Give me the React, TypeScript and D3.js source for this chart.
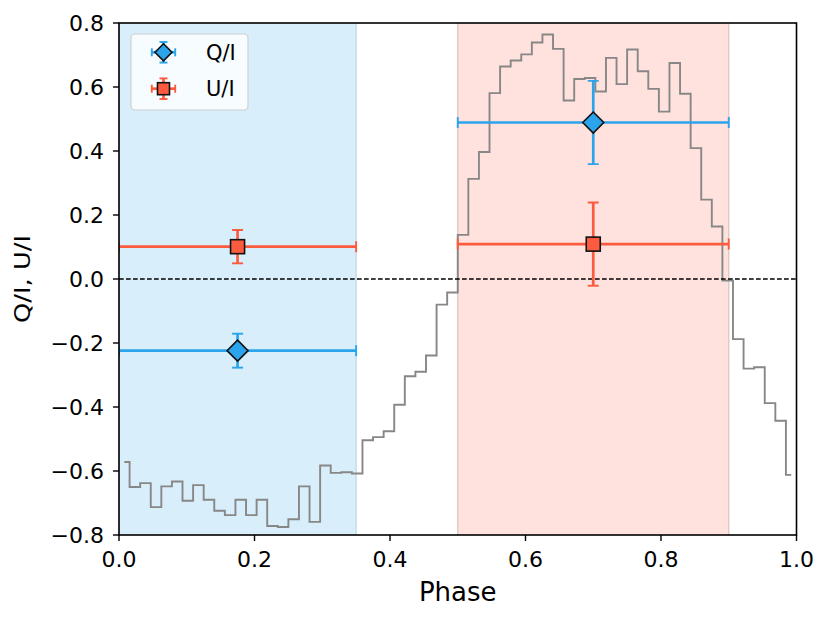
import React from "react";
import * as d3 from "d3";

const nBins = 64;
const curveValues: number[] = [
  -0.572, -0.650, -0.638, -0.713, -0.648, -0.633, -0.693, -0.644,
  -0.690, -0.724, -0.738, -0.690, -0.738, -0.690, -0.772, -0.775,
  -0.751, -0.648, -0.759, -0.583, -0.606, -0.604, -0.608, -0.504,
  -0.494, -0.476, -0.393, -0.304, -0.290, -0.239, -0.080, -0.042,
  0.138, 0.313, 0.397, 0.581, 0.664, 0.683, 0.702, 0.739,
  0.764, 0.719, 0.558, 0.625, 0.628, 0.586, 0.691, 0.609,
  0.717, 0.649, 0.594, 0.523, 0.675, 0.579, 0.409, 0.248,
  0.164, -0.005, -0.188, -0.280, -0.276, -0.388, -0.443, -0.612,
];

const seriesNames = ["Q/I", "U/I"];
const seriesColors = ["#2ba4ec", "#fb5c40"];
const pointPhase = [0.175, 0.7];
const pointPhaseErr = [0.175, 0.2];
const qValues = [-0.224, 0.489];
const qErrors = [0.053, 0.13];
const uValues = [0.101, 0.109];
const uErrors = [0.052, 0.13];

const spans = [
  { from: 0.0, to: 0.35, color: "#d8eefb", edge: "#c3d8e4" },
  { from: 0.5, to: 0.9, color: "#ffe2dd", edge: "#dcc6c2" },
];

const xTicks = [0, 0.2, 0.4, 0.6, 0.8, 1.0];
const yTicks = [-0.8, -0.6, -0.4, -0.2, 0, 0.2, 0.4, 0.6, 0.8];

const W = 830;
const H = 621;
const m = { left: 119, right: 796.5, top: 23, bottom: 535 };
const FONT = "DejaVu Sans, sans-serif";
const TICK_FS = 22;

const fmt = (v: number) => {
  const s = v.toFixed(1);
  return v < 0 ? "\u2212" + s.slice(1) : s;
};

function Diamond({ cx, cy, r, fill }: { cx: number; cy: number; r: number; fill: string }) {
  return (
    <path
      d={`M${cx},${cy - r}L${cx + r},${cy}L${cx},${cy + r}L${cx - r},${cy}Z`}
      fill={fill}
      stroke="#111"
      strokeWidth={1.6}
    />
  );
}

function Square({ cx, cy, s, fill }: { cx: number; cy: number; s: number; fill: string }) {
  return <rect x={cx - s / 2} y={cy - s / 2} width={s} height={s} fill={fill} stroke="#111" strokeWidth={1.6} />;
}

function ErrBar({
  x, y, xe0, xe1, ye0, ye1, color, cap,
}: { x: number; y: number; xe0: number; xe1: number; ye0: number; ye1: number; color: string; cap: number }) {
  return (
    <g stroke={color} strokeWidth={2.7}>
      <line x1={xe0} x2={xe1} y1={y} y2={y} />
      <line x1={x} x2={x} y1={ye0} y2={ye1} />
      <line x1={xe0} x2={xe0} y1={y - cap} y2={y + cap} strokeWidth={1.9} />
      <line x1={xe1} x2={xe1} y1={y - cap} y2={y + cap} strokeWidth={1.9} />
      <line x1={x - cap} x2={x + cap} y1={ye0} y2={ye0} strokeWidth={1.9} />
      <line x1={x - cap} x2={x + cap} y1={ye1} y2={ye1} strokeWidth={1.9} />
    </g>
  );
}

export default function App() {
  const x = d3.scaleLinear().domain([0, 1]).range([m.left, m.right]);
  const y = d3.scaleLinear().domain([-0.8, 0.8]).range([m.bottom, m.top]);

  const centers = curveValues.map((_, i) => (i + 0.5) / nBins);
  const line = d3
    .line<number>()
    .x((_, i) => x(centers[i]))
    .y((d) => y(d))
    .curve(d3.curveStep);
  const pathD = line(curveValues) || "";

  const cap = 5.5;

  const points = pointPhase.map((p, i) => ({
    p,
    pe: pointPhaseErr[i],
    q: qValues[i],
    qe: qErrors[i],
    u: uValues[i],
    ue: uErrors[i],
  }));

  return (
    <svg
      width={W}
      height={H}
      style={{ position: "absolute", left: 0, top: 0, background: "#fff" }}
      fontFamily={FONT}
    >
      <defs>
        <clipPath id="plot">
          <rect x={m.left} y={m.top} width={m.right - m.left} height={m.bottom - m.top} />
        </clipPath>
      </defs>
      {spans.map((s, i) => (
        <g key={i}>
          <rect x={x(s.from)} y={m.top} width={x(s.to) - x(s.from)} height={m.bottom - m.top} fill={s.color} />
          <line x1={x(s.from)} x2={x(s.from)} y1={m.top} y2={m.bottom} stroke={s.edge} strokeWidth={1.3} />
          <line x1={x(s.to)} x2={x(s.to)} y1={m.top} y2={m.bottom} stroke={s.edge} strokeWidth={1.3} />
        </g>
      ))}
      <g clipPath="url(#plot)">
        <path d={pathD} fill="none" stroke="#878787" strokeWidth={1.9} />
        <line x1={m.left} x2={m.right} y1={y(0)} y2={y(0)} stroke="#000" strokeWidth={1.3} strokeDasharray="4.7,2.3" />
        {points.map((d, i) => (
          <ErrBar
            key={"q" + i}
            x={x(d.p)}
            y={y(d.q)}
            xe0={x(d.p - d.pe)}
            xe1={x(d.p + d.pe)}
            ye0={y(d.q + d.qe)}
            ye1={y(d.q - d.qe)}
            color={seriesColors[0]}
            cap={cap}
          />
        ))}
        {points.map((d, i) => (
          <Diamond key={"qm" + i} cx={x(d.p)} cy={y(d.q)} r={10.5} fill={seriesColors[0]} />
        ))}
        {points.map((d, i) => (
          <ErrBar
            key={"u" + i}
            x={x(d.p)}
            y={y(d.u)}
            xe0={x(d.p - d.pe)}
            xe1={x(d.p + d.pe)}
            ye0={y(d.u + d.ue)}
            ye1={y(d.u - d.ue)}
            color={seriesColors[1]}
            cap={cap}
          />
        ))}
        {points.map((d, i) => (
          <Square key={"um" + i} cx={x(d.p)} cy={y(d.u)} s={14} fill={seriesColors[1]} />
        ))}
      </g>

      <rect x={m.left} y={m.top} width={m.right - m.left} height={m.bottom - m.top} fill="none" stroke="#000" strokeWidth={1.6} />

      {xTicks.map((t) => (
        <g key={"xt" + t}>
          <line x1={x(t)} x2={x(t)} y1={m.bottom} y2={m.bottom + 6} stroke="#000" strokeWidth={1.4} />
          <text x={x(t)} y={567} textAnchor="middle" fontSize={TICK_FS} fill="#000">
            {fmt(t)}
          </text>
        </g>
      ))}
      {yTicks.map((t) => (
        <g key={"yt" + t}>
          <line x1={m.left - 6} x2={m.left} y1={y(t)} y2={y(t)} stroke="#000" strokeWidth={1.4} />
          <text x={104} y={y(t)} dy="0.36em" textAnchor="end" fontSize={TICK_FS} fill="#000">
            {fmt(t)}
          </text>
        </g>
      ))}

      <text x={(m.left + m.right) / 2} y={601} textAnchor="middle" fontSize={26} fill="#000">
        Phase
      </text>
      <text
        transform={`translate(30,${(m.top + m.bottom) / 2}) rotate(-90)`}
        textAnchor="middle"
        fontSize={21}
        textLength={88}
        lengthAdjust="spacingAndGlyphs"
        fill="#000"
      >
        Q/I, U/I
      </text>

      <g>
        <rect x={131} y={34} width={117} height={76} rx={4} fill="#fff" fillOpacity={0.8} stroke="#d0d0d0" strokeWidth={1.2} />
        <ErrBar x={163.5} y={52.3} xe0={151.8} xe1={175.2} ye0={42} ye1={62.6} color={seriesColors[0]} cap={4} />
        <Diamond cx={163.5} cy={52.3} r={8.5} fill={seriesColors[0]} />
        <text x={206} y={52.3} dy="0.36em" fontSize={21} fill="#000">
          {seriesNames[0]}
        </text>
        <ErrBar x={163.5} y={88.7} xe0={151.8} xe1={175.2} ye0={78.4} ye1={99} color={seriesColors[1]} cap={4} />
        <Square cx={163.5} cy={88.7} s={12} fill={seriesColors[1]} />
        <text x={206} y={88.7} dy="0.36em" fontSize={21} fill="#000">
          {seriesNames[1]}
        </text>
      </g>
    </svg>
  );
}
